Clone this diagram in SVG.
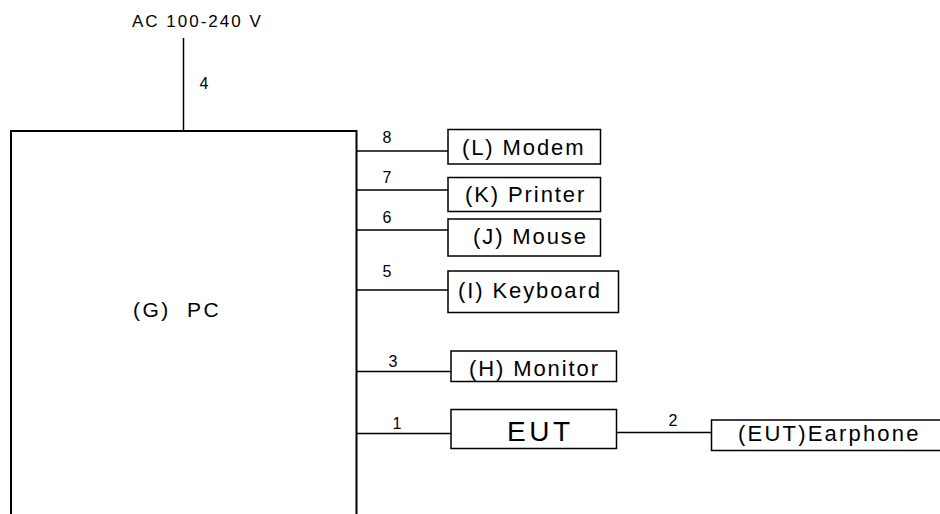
<svg xmlns="http://www.w3.org/2000/svg" width="940" height="514" viewBox="0 0 940 514">
<style>
  text { font-family: "Liberation Sans", Arial, sans-serif; fill: #000; }
  .lbl { font-size: 22px; letter-spacing: 1.9px; }
  .num { font-size: 16px; text-anchor: middle; }
  .box { fill: #fff; stroke: #000; stroke-width: 1.5; }
  .wire { fill: none; stroke: #000; stroke-width: 1.5; }
</style>
<rect x="0" y="0" width="940" height="514" fill="#fff"/>
<g id="power">
  <text x="132" y="27" style="font-size:17px;letter-spacing:2px">AC 100-240 V</text>
</g>
<g id="pc">
  <path d="M11,514 V131 H356.5 V514" fill="none" stroke="#000" stroke-width="2"/>
  <text x="133" y="317" xml:space="preserve" style="font-size:21px;letter-spacing:2.4px">(G)  PC</text>
</g>
<g id="modem">
  <rect class="box" x="448" y="129.5" width="152.5" height="34.5"/>
  <text class="lbl" x="462" y="155">(L) Modem</text>
</g>
<g id="printer">
  <rect class="box" x="448" y="177.5" width="152.5" height="34"/>
  <text class="lbl" x="465" y="201.5">(K) Printer</text>
</g>
<g id="mouse">
  <rect class="box" x="448" y="219" width="152.5" height="37"/>
  <text class="lbl" x="473" y="243.5">(J) Mouse</text>
</g>
<g id="keyboard">
  <rect class="box" x="448" y="271" width="170.5" height="41.5"/>
  <text class="lbl" x="458" y="298">(I) Keyboard</text>
</g>
<g id="monitor">
  <rect class="box" x="451" y="351" width="165.5" height="30.5"/>
  <text class="lbl" x="469" y="376">(H) Monitor</text>
</g>
<g id="eut">
  <rect class="box" x="451" y="409.5" width="165.5" height="39"/>
  <text x="507" y="441" style="font-size:28px;letter-spacing:3.5px">EUT</text>
</g>
<g id="earphone">
  <rect class="box" x="711.5" y="420" width="240" height="30.5"/>
  <text class="lbl" x="738" y="441" style="letter-spacing:2.2px">(EUT)Earphone</text>
</g>
<g id="connectors">
  <path class="wire" d="M183.5,38 V131"/>
  <path class="wire" d="M356.5,151 H448"/>
  <path class="wire" d="M356.5,190 H448"/>
  <path class="wire" d="M356.5,230 H448"/>
  <path class="wire" d="M356.5,290 H448"/>
  <path class="wire" d="M356.5,371.5 H451"/>
  <path class="wire" d="M356.5,433.5 H451"/>
  <path class="wire" d="M616.5,432.5 H711.5"/>
  <text class="num" x="204" y="89">4</text>
  <text class="num" x="387" y="143">8</text>
  <text class="num" x="387" y="183">7</text>
  <text class="num" x="387" y="223">6</text>
  <text class="num" x="387" y="277">5</text>
  <text class="num" x="393" y="367">3</text>
  <text class="num" x="397" y="429">1</text>
  <text class="num" x="673" y="426">2</text>
</g>
</svg>
